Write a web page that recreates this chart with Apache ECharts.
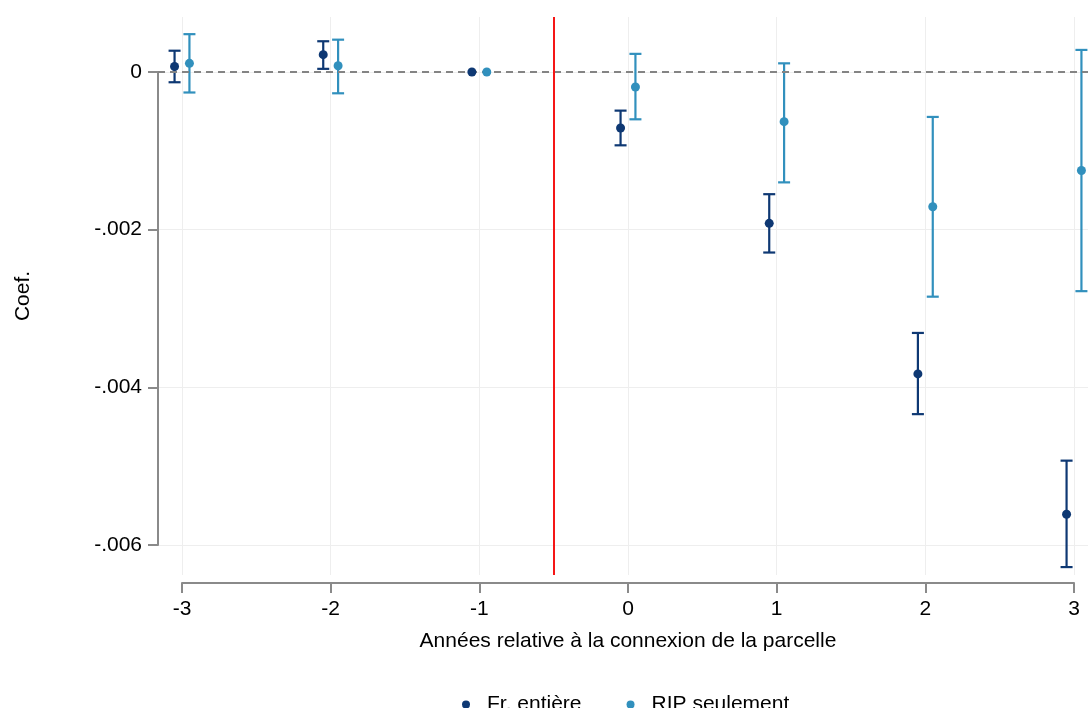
<!DOCTYPE html>
<html>
<head>
<meta charset="utf-8">
<script src="https://cdn.jsdelivr.net/npm/echarts@6/dist/echarts.min.js"></script>
<style>html,body{margin:0;padding:0;background:#fff}#c{width:1088px;height:708px}</style>
</head>
<body>
<div id="c"></div>
<script>
// Years relative to connection
const years = [-3, -2, -1, 0, 1, 2, 3];
// Fr. entière: coefficient, lower CI, upper CI
const frCoef = [0.00007, 0.00022, 0, -0.00071, -0.00192, -0.00383, -0.00561];
const frLow  = [-0.00013, 0.00004, null, -0.00093, -0.00229, -0.00434, -0.00628];
const frHigh = [0.00027, 0.00039, null, -0.00049, -0.00155, -0.00331, -0.00493];
// RIP seulement
const ripCoef = [0.00011, 0.00008, 0, -0.00019, -0.00063, -0.00171, -0.00125];
const ripLow  = [-0.00026, -0.00027, null, -0.00060, -0.00140, -0.00285, -0.00278];
const ripHigh = [0.00048, 0.00041, null, 0.00023, 0.00011, -0.00057, 0.00028];
const xTicks = [-3, -2, -1, 0, 1, 2, 3];
const yTicks = [0, -0.002, -0.004, -0.006];
const offset = 0.05;
const eventLine = -0.5;

const navy = '#0e3873';
const teal = '#3190bd';
const FONT = "'Liberation Sans', Arial, Helvetica, sans-serif";
const FS = 21;

function pts(coef, d) { return years.map((y, i) => [y + d, coef[i]]); }
function cis(lo, hi, d) {
  const out = [];
  years.forEach((y, i) => { if (lo[i] !== null) out.push([y + d, lo[i], hi[i]]); });
  return out;
}
function errRender(color) {
  return function (params, api) {
    const x = api.value(0), lo = api.value(1), hi = api.value(2);
    const a = api.coord([x, hi]), b = api.coord([x, lo]);
    const w = 6;
    const st = { stroke: color, lineWidth: 2.2, fill: null };
    return {
      type: 'group', children: [
        { type: 'line', shape: { x1: a[0], y1: a[1], x2: b[0], y2: b[1] }, style: st },
        { type: 'line', shape: { x1: a[0] - w, y1: a[1], x2: a[0] + w, y2: a[1] }, style: st },
        { type: 'line', shape: { x1: b[0] - w, y1: b[1], x2: b[0] + w, y2: b[1] }, style: st }
      ]
    };
  };
}
function fmtY(v) {
  if (Math.abs(v) < 1e-12) return '0';
  const s = Math.abs(v).toFixed(3).replace(/^0/, '');
  return (v < 0 ? '-' : '') + s;
}

const chart = echarts.init(document.getElementById('c'), null, { renderer: 'canvas' });
chart.setOption({
  backgroundColor: '#fff',
  animation: false,
  textStyle: { fontFamily: FONT },
  grid: [
    { left: 158, right: 0, top: 17, bottom: 133, outerBoundsMode: 'none', containLabel: false },
    { left: 182, right: 14, top: 17, bottom: 133, outerBoundsMode: 'none', containLabel: false },
    { left: 158, right: 0, top: 72, bottom: 163, outerBoundsMode: 'none', containLabel: false }
  ],
  xAxis: [
    { gridIndex: 0, type: 'value', min: -3.16143, max: 3.09417, show: false },
    {
      gridIndex: 1, type: 'value', min: xTicks[0], max: xTicks[xTicks.length - 1], interval: 1, offset: 8,
      axisLine: { show: true, onZero: false, lineStyle: { color: '#8a8a8a', width: 2 } },
      axisTick: { show: true, length: 10, lineStyle: { color: '#8a8a8a', width: 2 } },
      axisLabel: { color: '#000', fontSize: FS, fontFamily: FONT, margin: 16 },
      splitLine: { show: true, lineStyle: { color: '#eeeeee', width: 1 } },
      name: 'Années relative à la connexion de la parcelle', nameLocation: 'middle', nameGap: 48,
      nameTextStyle: { color: '#000', fontSize: FS, fontFamily: FONT }
    },
    { gridIndex: 2, type: 'value', show: false, min: 0, max: 1 }
  ],
  yAxis: [
    {
      gridIndex: 0, type: 'value', min: -0.0063805, max: 0.00069767,
      axisLine: { show: false }, axisTick: { show: false }, axisLabel: { show: false }, splitLine: { show: false },
      name: 'Coef.', nameLocation: 'middle', nameGap: 124, nameRotate: 90,
      nameTextStyle: { color: '#000', fontSize: FS, fontFamily: FONT }
    },
    { gridIndex: 1, type: 'value', show: false, min: 0, max: 1 },
    {
      gridIndex: 2, type: 'value', min: yTicks[yTicks.length - 1], max: yTicks[0], interval: 0.002,
      axisLine: { show: true, onZero: false, lineStyle: { color: '#8a8a8a', width: 2 } },
      axisTick: { show: true, length: 10, lineStyle: { color: '#8a8a8a', width: 2 } },
      axisLabel: { color: '#000', fontSize: FS, fontFamily: FONT, margin: 16, formatter: fmtY },
      splitLine: { show: true, lineStyle: { color: '#eeeeee', width: 1 } }
    }
  ],
  legend: {
    data: ['Fr. entière', 'RIP seulement'],
    left: 457, top: 689,
    icon: 'circle', itemWidth: 32, itemHeight: 8, itemGap: 45,
    textStyle: { color: '#000', fontSize: FS, fontFamily: FONT }
  },
  series: [
    {
      type: 'custom', name: 'ciFr', xAxisIndex: 0, yAxisIndex: 0,
      renderItem: errRender(navy), data: cis(frLow, frHigh, -offset), z: 3, silent: true
    },
    {
      type: 'custom', name: 'ciRip', xAxisIndex: 0, yAxisIndex: 0,
      renderItem: errRender(teal), data: cis(ripLow, ripHigh, offset), z: 3, silent: true
    },
    {
      type: 'scatter', name: 'Fr. entière', xAxisIndex: 0, yAxisIndex: 0,
      data: pts(frCoef, -offset), symbolSize: 9, itemStyle: { color: navy, opacity: 1 }, z: 5,
      markLine: {
        silent: true, symbol: 'none', label: { show: false }, animation: false,
        data: [
          { yAxis: 0, lineStyle: { color: '#848484', width: 2, type: [7, 5] } },
          { xAxis: eventLine, lineStyle: { color: '#f51616', width: 2, type: 'solid' } }
        ]
      }
    },
    {
      type: 'scatter', name: 'RIP seulement', xAxisIndex: 0, yAxisIndex: 0,
      data: pts(ripCoef, offset), symbolSize: 9, itemStyle: { color: teal, opacity: 1 }, z: 5
    }
  ]
});
</script>
</body>
</html>
